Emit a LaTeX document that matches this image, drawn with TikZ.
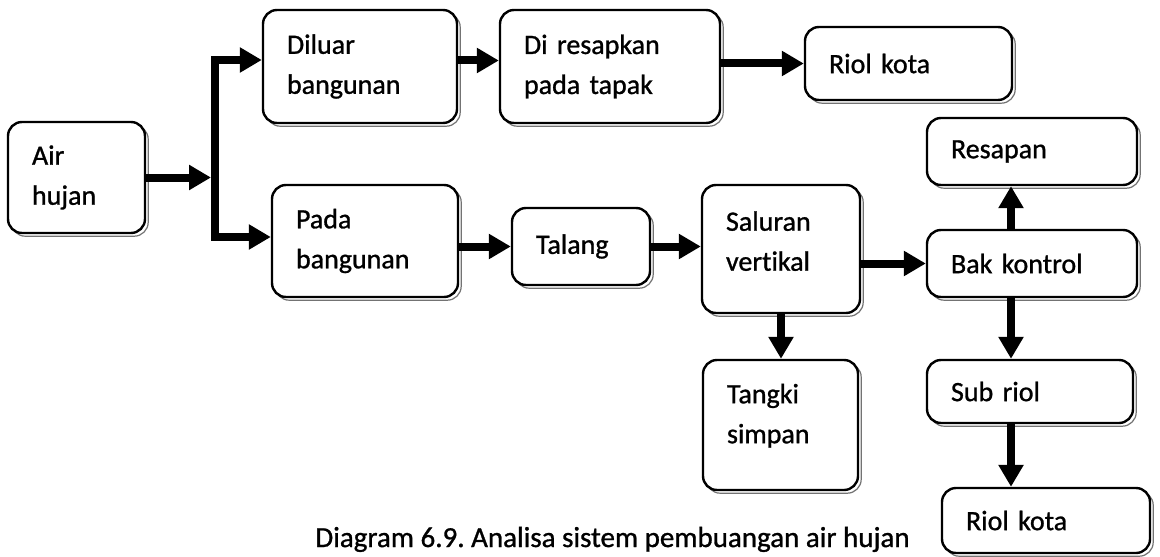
\documentclass[tikz,border=0pt]{standalone}
\usepackage{fontspec}
\setmainfont{Carlito}[Ligatures=NoCommon, FakeBold=1]
\frenchspacing
\usetikzlibrary{arrows.meta}
\usetikzlibrary{shadows}

\begin{document}
\begin{tikzpicture}[x=0.5pt, y=-0.5pt,
    kotak/.style={draw, fill=white, rounded corners=7pt, line width=1.2pt,
      align=left, inner xsep=12pt, inner ysep=3pt,
      font=\fontsize{14}{20}\selectfont,
      general shadow={draw=black!55, line width=0.6pt,
        shadow xshift=1.6pt, shadow yshift=-1.6pt}},
    panah/.style={line width=4pt, line join=miter, -{Triangle[length=11pt, width=12pt]}}]
  \useasboundingbox (0,0) rectangle (1160,556);

  % kotak baris atas
  \node[kotak, text width=44.5pt, minimum height=55.5pt] (air)     at (76.5,177.5) {Air\\hujan};
  \node[kotak, text width=73pt,   minimum height=56.5pt] (luar)    at (360,66.5)   {Diluar\\bangunan};
  \node[kotak, text width=86pt,   minimum height=56.5pt] (resap)   at (610,66.5)   {Di resapkan\\pada tapak};
  \node[kotak, text width=79.5pt, minimum height=36.5pt] (riolA)   at (908.5,63.5) {Riol kota};

  % kotak baris bawah
  \node[kotak, text width=69pt,   minimum height=56pt]   (pada)    at (365,241)    {Pada\\bangunan};
  \node[kotak, text width=45pt,   minimum height=38.5pt] (talang)  at (581,246.5)  {Talang};
  \node[kotak, text width=55pt,   minimum height=64pt,
        text depth=28pt]                                 (saluran) at (781,249)    {Saluran\\vertikal};
  \node[kotak, text width=53.5pt, minimum height=65pt,
        text depth=31.5pt]                               (tangki)  at (780.5,425)  {Tangki\\simpan};

  % kolom kanan
  \node[kotak, text width=81pt,   minimum height=33.5pt] (resapan) at (1032,151.5) {Resapan};
  \node[kotak, text width=81pt,   minimum height=33.5pt] (bak)     at (1032,263.5) {Bak kontrol};
  \node[kotak, text width=79pt,   minimum height=31.5pt] (subriol) at (1030,391.5) {Sub riol};
  \node[kotak, text width=80pt,   minimum height=32.5pt] (riolB)   at (1046,520.5) {Riol kota};

  % judul
  \node[anchor=base west, inner sep=0pt, font=\fontsize{14.5}{17}\selectfont]
    (judul) at (315,547) {Diagram 6.9. Analisa sistem pembuangan air hujan};

  % percabangan
  \coordinate (tengah)  at (211,177.5);
  \coordinate (cabangA) at (215,60);
  \coordinate (cabangB) at (215,237);
  \coordinate (jalur)   at (1011,0);
  \draw[panah] (air.east) -- (tengah);
  \draw[panah] (cabangB) -- (cabangA) -- (cabangA -| luar.west);
  \draw[panah] (cabangA) -- (cabangB) -- (cabangB -| pada.west);

  % panah
  \draw[panah] ([yshift=3pt]luar.east) -- ([yshift=3pt]resap.west);
  \draw[panah] (resap.east |- riolA) -- (riolA.west);
  \draw[panah] (pada.east |- talang) -- (talang.west);
  \draw[panah] (talang.east) -- (talang.east -| saluran.west);
  \draw[panah] (saluran.east |- bak) -- (bak.west);
  \draw[panah] (saluran.south) -- (saluran.south |- tangki.north);
  \draw[panah] (bak.north -| jalur) -- (resapan.south -| jalur);
  \draw[panah] (bak.south -| jalur) -- (subriol.north -| jalur);
  \draw[panah] (subriol.south -| jalur) -- (riolB.north -| jalur);
\end{tikzpicture}
\end{document}
